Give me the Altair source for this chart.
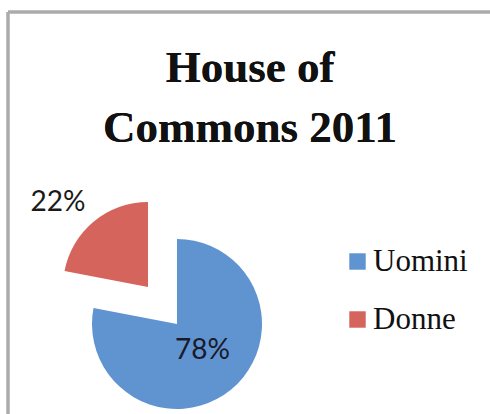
import altair as alt
import pandas as pd

categories = ["Uomini", "Donne"]
values = [78, 22]
labels = ["78%", "22%"]
order = [0, 1]
colors = ["#5f94d1", "#d4645c"]
title_lines = ["House of", "Commons 2011"]

df = pd.DataFrame({"category": categories, "value": values, "label": labels, "order": order})

base = alt.Chart(df).transform_window(
    end="sum(value)", sort=[alt.SortField("order")], frame=[None, 0]
).transform_calculate(
    start="datum.end - datum.value", mid="datum.end - datum.value / 2"
)

theta_scale = alt.Scale(domain=[0, 100], range=[0, 6.283185307])
color = alt.Color(
    "category:N",
    scale=alt.Scale(domain=categories, range=colors),
    legend=alt.Legend(
        title=None, orient="none", legendX=342, legendY=246,
        symbolType="square", symbolSize=270, symbolStrokeWidth=0,
        labelFont="Liberation Serif", labelFontSize=31, labelColor="#111",
        labelOffset=0, rowPadding=26, padding=0,
    ),
)

CX, CY = 177, 324
RX, RY = 148, 287

blue = base.transform_filter(alt.datum.category == "Uomini").mark_arc(stroke=None).encode(
    theta=alt.Theta("start:Q", scale=theta_scale), theta2="end:Q",
    color=color, x=alt.value(CX), y=alt.value(CY), radius=alt.value(85),
)
red = base.transform_filter(alt.datum.category == "Donne").mark_arc(stroke=None).encode(
    theta=alt.Theta("start:Q", scale=theta_scale), theta2="end:Q",
    color=color, x=alt.value(RX), y=alt.value(RY), radius=alt.value(85),
)
blue_lbl = base.transform_filter(alt.datum.category == "Uomini").mark_text(
    font="Lato", fontSize=28, color="#1a1a2a", align="center", baseline="middle", dy=-4
).encode(
    theta=alt.Theta("mid:Q", scale=theta_scale), radius=alt.value(40),
    x=alt.value(CX), y=alt.value(CY), text="label:N",
)
red_lbl = base.transform_filter(alt.datum.category == "Donne").mark_text(
    font="Lato", fontSize=28, color="#1a1a1a", align="center", baseline="middle", dx=-11, dy=12
).encode(
    theta=alt.Theta("mid:Q", scale=theta_scale), radius=alt.value(124),
    x=alt.value(RX), y=alt.value(RY), text="label:N",
)

title = alt.Chart(df).mark_text(
    font="Liberation Serif", fontSize=45, fontWeight="bold", color="#111",
    align="center", baseline="alphabetic", lineHeight=60,
).encode(x=alt.value(250), y=alt.value(82), text=alt.value(title_lines))

frame_left = alt.Chart(df).mark_rule(color="#ababab", strokeWidth=3).encode(
    x=alt.value(8), y=alt.value(12), y2=alt.value(420)
)
frame_top = alt.Chart(df).mark_rule(color="#ababab", strokeWidth=3).encode(
    x=alt.value(8), x2=alt.value(500), y=alt.value(12)
)

chart = alt.layer(frame_left, frame_top, title, blue, red, blue_lbl, red_lbl).properties(
    width=490, height=414,
    autosize=alt.AutoSizeParams(type="none"),
    padding=0,
    background="white",
).configure_view(stroke=None)

chart.save("out.html", embed_options={"renderer": "svg", "actions": False})
